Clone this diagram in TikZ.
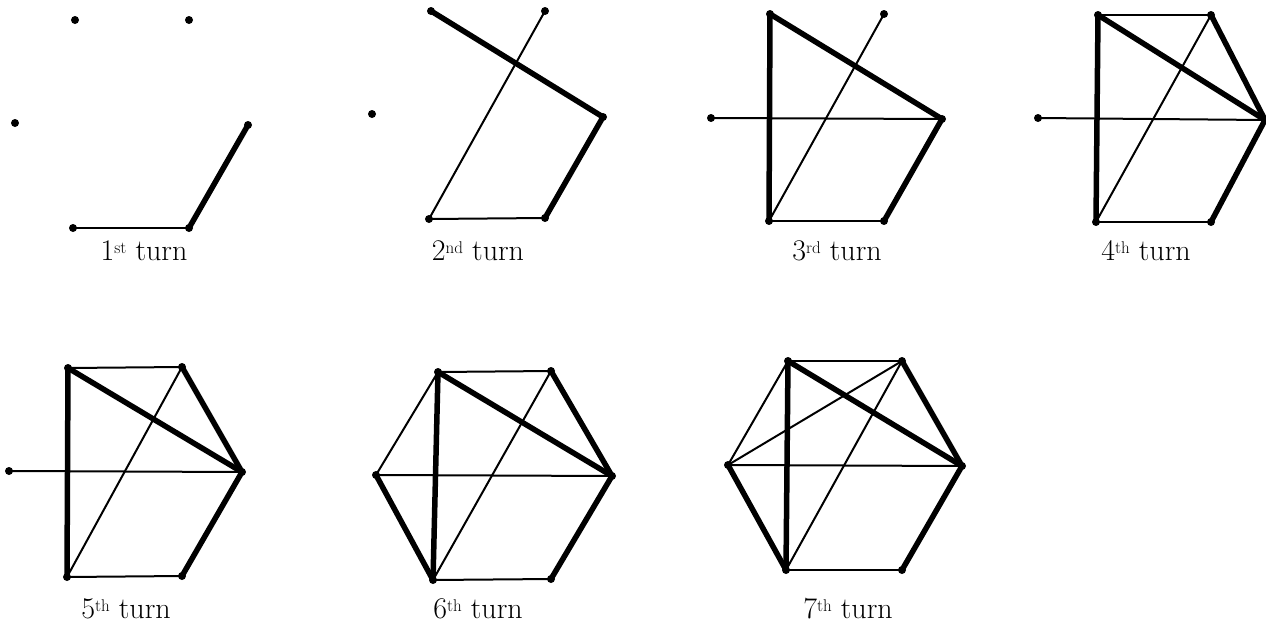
\documentclass[tikz,border=0pt]{standalone}
\usepackage{fontspec}
\newcommand\ordsuf[1]{\raisebox{7pt}{\fontsize{17}{17}\selectfont #1}}
\newcommand\sixpts[7]{%
  \node[vtx] (#1tl) at #2 {};
  \node[vtx] (#1tr) at #3 {};
  \node[vtx] (#1l)  at #4 {};
  \node[vtx] (#1r)  at #5 {};
  \node[vtx] (#1br) at #6 {};
  \node[vtx] (#1bl) at #7 {};
}
\begin{document}
\begin{tikzpicture}[x=1pt,y=-1pt,
  vtx/.style={circle,fill=black,inner sep=0pt,minimum size=8pt},
  thin edge/.style={line width=2pt,line cap=round},
  thick edge/.style={line width=5.5pt,line cap=round},
  lbl/.style={anchor=base,font=\fontsize{30}{32}\selectfont,inner sep=0pt}]
\useasboundingbox (0,0) rectangle (1266,624);
% panel 1
\sixpts{a}{(75,20)}{(189,20)}{(15,123)}{(248,125)}{(189,228)}{(73,228)}
\draw[thin edge] (abl.center) -- (abr.center);
\draw[thick edge] (abr.center) -- (ar.center);
\node[lbl] (la) at (144,260) {1\ordsuf{st} turn};
% panel 2
\sixpts{b}{(431,11)}{(545,11)}{(372,114)}{(603,117)}{(545,218)}{(429,219)}
\draw[thin edge] (bbl.center) -- (bbr.center);
\draw[thin edge] (btr.center) -- (bbl.center);
\draw[thick edge] (bbr.center) -- (br.center);
\draw[thick edge] (br.center) -- (btl.center);
\node[lbl] (lb) at (478,260) {2\ordsuf{nd} turn};
% panel 3
\sixpts{c}{(770,14)}{(884,14)}{(711,118)}{(942,119)}{(884,221)}{(769,221)}
\draw[thin edge] (cbl.center) -- (cbr.center);
\draw[thin edge] (ctr.center) -- (cbl.center);
\draw[thin edge] (cl.center) -- (cr.center);
\draw[thick edge] (cbr.center) -- (cr.center);
\draw[thick edge] (cr.center) -- (ctl.center);
\draw[thick edge] (ctl.center) -- (cbl.center);
\node[lbl] (lc) at (837,260) {3\ordsuf{rd} turn};
% panel 4
\sixpts{d}{(1098,15)}{(1211,15)}{(1038,118)}{(1265,120)}{(1211,222)}{(1096,222)}
\draw[thin edge] (dbl.center) -- (dbr.center);
\draw[thin edge] (dtr.center) -- (dbl.center);
\draw[thin edge] (dl.center) -- (dr.center);
\draw[thin edge] (dtl.center) -- (dtr.center);
\draw[thick edge] (dbr.center) -- (dr.center);
\draw[thick edge] (dr.center) -- (dtl.center);
\draw[thick edge] (dtl.center) -- (dbl.center);
\draw[thick edge] (dtr.center) -- (dr.center);
\node[lbl] (ld) at (1146,260) {4\ordsuf{th} turn};
% panel 5
\sixpts{e}{(68,368)}{(182,367)}{(9,471)}{(242,472)}{(182,576)}{(67,577)}
\draw[thin edge] (ebl.center) -- (ebr.center);
\draw[thin edge] (etr.center) -- (ebl.center);
\draw[thin edge] (el.center) -- (er.center);
\draw[thin edge] (etl.center) -- (etr.center);
\draw[thick edge] (ebr.center) -- (er.center);
\draw[thick edge] (er.center) -- (etl.center);
\draw[thick edge] (etl.center) -- (ebl.center);
\draw[thick edge] (etr.center) -- (er.center);
\node[lbl] (le) at (126,618) {5\ordsuf{th} turn};
% panel 6
\sixpts{f}{(438,372)}{(551,371)}{(376,475)}{(612,476)}{(551,579)}{(433,580)}
\draw[thin edge] (fbl.center) -- (fbr.center);
\draw[thin edge] (ftr.center) -- (fbl.center);
\draw[thin edge] (fl.center) -- (fr.center);
\draw[thin edge] (ftl.center) -- (ftr.center);
\draw[thin edge] (fl.center) -- (ftl.center);
\draw[thick edge] (fbr.center) -- (fr.center);
\draw[thick edge] (fr.center) -- (ftl.center);
\draw[thick edge] (ftl.center) -- (fbl.center);
\draw[thick edge] (ftr.center) -- (fr.center);
\draw[thick edge] (fl.center) -- (fbl.center);
\node[lbl] (lf) at (478,618) {6\ordsuf{th} turn};
% panel 7
\sixpts{g}{(788,361)}{(902,361)}{(728,465)}{(962,466)}{(902,570)}{(786,570)}
\draw[thin edge] (gbl.center) -- (gbr.center);
\draw[thin edge] (gtr.center) -- (gbl.center);
\draw[thin edge] (gl.center) -- (gr.center);
\draw[thin edge] (gtl.center) -- (gtr.center);
\draw[thin edge] (gl.center) -- (gtl.center);
\draw[thin edge] (gl.center) -- (gtr.center);
\draw[thick edge] (gbr.center) -- (gr.center);
\draw[thick edge] (gr.center) -- (gtl.center);
\draw[thick edge] (gtl.center) -- (gbl.center);
\draw[thick edge] (gtr.center) -- (gr.center);
\draw[thick edge] (gl.center) -- (gbl.center);
\node[lbl] (lg) at (848,618) {7\ordsuf{th} turn};
\end{tikzpicture}
\end{document}
